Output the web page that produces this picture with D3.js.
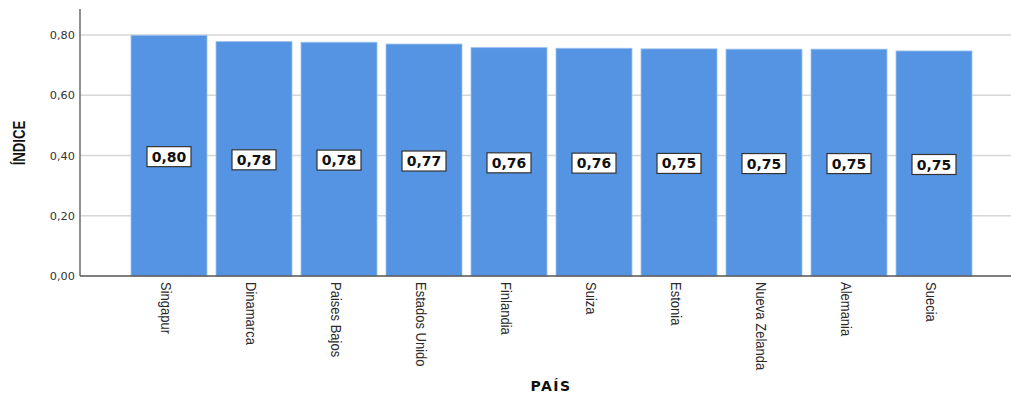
<!DOCTYPE html>
<html>
<head>
<meta charset="utf-8">
<script src="https://cdn.jsdelivr.net/npm/d3@7"></script>
<style>
  html, body { margin: 0; padding: 0; background: #fff; }
  svg { display: block; }
</style>
</head>
<body>
<svg id="chart" width="1011" height="396"></svg>
<script>
// Índice por país (diez primeros)
const paises = ["Singapur", "Dinamarca", "Paises Bajos", "Estados Unido", "Finlandia",
                "Suiza", "Estonia", "Nueva Zelanda", "Alemania", "Suecia"];
const indice = [0.799, 0.778, 0.776, 0.770, 0.758, 0.756, 0.754, 0.753, 0.753, 0.747];
const ticksY = [0, 0.2, 0.4, 0.6, 0.8];

const svg = d3.select("#chart");

const plotLeft = 80, plotRight = 1011, plotBottom = 276, plotTop = 9;

const x = d3.scaleBand()
  .domain(paises)
  .range([126.5, 976.5])
  .paddingInner(0.106)
  .paddingOuter(0.053);

const y = d3.scaleLinear()
  .domain([0, 0.8])
  .range([plotBottom, 35]);

const fmt = v => d3.format(".2f")(v).replace(".", ",");

// Líneas de cuadrícula
svg.append("g")
  .selectAll("line")
  .data(ticksY.filter(d => d > 0))
  .join("line")
  .attr("x1", plotLeft).attr("x2", plotRight)
  .attr("y1", d => y(d)).attr("y2", d => y(d))
  .attr("stroke", "#d6d6d6")
  .attr("stroke-width", 1.5);

// Eje Y
const yAxis = svg.append("g")
  .attr("transform", `translate(${plotLeft},0)`)
  .call(d3.axisLeft(y).tickValues(ticksY).tickSize(0).tickPadding(5).tickFormat(fmt));
yAxis.select(".domain").remove();
yAxis.selectAll("text")
  .attr("font-family", "DejaVu Sans, sans-serif")
  .attr("font-size", 11.3)
  .attr("fill", "#333");

// Barras
const data = paises.map((p, i) => ({ pais: p, valor: indice[i] }));
svg.append("g")
  .selectAll("rect")
  .data(data)
  .join("rect")
  .attr("x", d => x(d.pais))
  .attr("y", d => y(d.valor))
  .attr("width", x.bandwidth())
  .attr("height", d => y(0) - y(d.valor))
  .attr("fill", "#5594e2")
  .attr("stroke", "#9cc0ee")
  .attr("stroke-width", 0.8);

// Ejes (líneas)
svg.append("line")
  .attr("x1", plotLeft).attr("x2", plotLeft)
  .attr("y1", plotTop).attr("y2", plotBottom)
  .attr("stroke", "#555").attr("stroke-width", 1.3);
svg.append("line")
  .attr("x1", plotLeft).attr("x2", plotRight)
  .attr("y1", plotBottom).attr("y2", plotBottom)
  .attr("stroke", "#555").attr("stroke-width", 1.3);

// Etiquetas de valor
const lab = svg.append("g")
  .selectAll("g")
  .data(data)
  .join("g")
  .attr("transform", d => `translate(${x(d.pais) + x.bandwidth() / 2},${(y(d.valor) + y(0)) / 2 + 1})`);
lab.append("rect")
  .attr("x", -22).attr("y", -10)
  .attr("width", 44).attr("height", 20)
  .attr("fill", "#fff")
  .attr("stroke", "#333")
  .attr("stroke-width", 1.2);
lab.append("text")
  .attr("text-anchor", "middle")
  .attr("dy", "0.36em")
  .attr("font-family", "DejaVu Sans, sans-serif")
  .attr("font-weight", "bold")
  .attr("font-size", 14)
  .attr("fill", "#111")
  .text(d => fmt(d.valor));

// Etiquetas del eje X (giradas)
svg.append("g")
  .selectAll("text")
  .data(paises)
  .join("text")
  .attr("transform", d => `translate(${x(d) + x.bandwidth() / 2 - 3},282) rotate(90) scale(0.84,1)`)
  .attr("dy", "0.35em")
  .attr("font-family", "Liberation Sans, Arial, sans-serif")
  .attr("font-size", 15.5)
  .attr("fill", "#2a2a2a")
  .text(d => d);

// Títulos de ejes
svg.append("text")
  .attr("transform", "translate(25,143) rotate(-90) scale(0.8,1)")
  .attr("text-anchor", "middle")
  .attr("font-family", "Liberation Sans, Arial, sans-serif")
  .attr("font-weight", "bold")
  .attr("font-size", 16.5)
  .attr("fill", "#111")
  .text("ÍNDICE");

svg.append("text")
  .attr("x", 551).attr("y", 391)
  .attr("text-anchor", "middle")
  .attr("font-family", "DejaVu Sans, sans-serif")
  .attr("font-weight", "bold")
  .attr("font-size", 14)
  .attr("letter-spacing", 1.5)
  .attr("fill", "#111")
  .text("PAÍS");
</script>
</body>
</html>
